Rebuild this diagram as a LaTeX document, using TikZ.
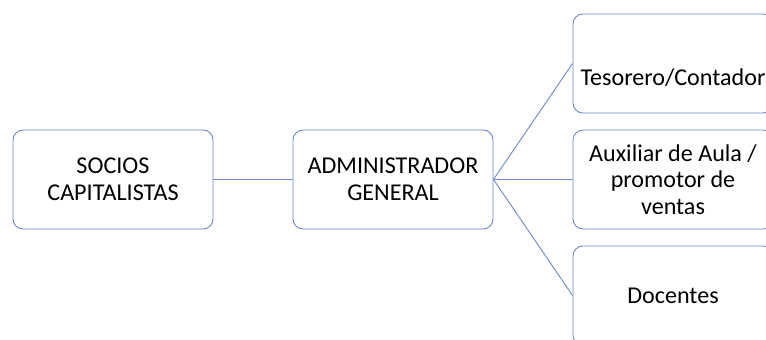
\documentclass[tikz,border=0pt]{standalone}
\usepackage{fontspec}
\setmainfont{Carlito}
\usepackage{tikz}
\usepackage{xcolor}
\usetikzlibrary{positioning, shapes}

\definecolor{officeblue}{HTML}{6A8ACB}
\tikzset{
  caja/.style={rectangle, draw=officeblue, rounded corners=10bp, line width=0.9bp, fill=white,
    minimum width=200bp, minimum height=99bp, align=center, font=\fontsize{24.2}{26.8}\selectfont, inner sep=2bp},
  linea/.style={draw=officeblue, line width=0.9bp}
}

\begin{document}
\begin{tikzpicture}[x=1bp, y=-1bp]
            \useasboundingbox (0, 0) rectangle (766, 339);
            \clip (0, 0) rectangle (766, 339);
            \node[caja] (1) at (113, 179.5) {SOCIOS\\CAPITALISTAS};
            \node[caja] (2) at (393, 179.5) {ADMINISTRADOR\\GENERAL};
            \node[caja, text height=44bp, text depth=0bp] (3) at (673, 63.5) {Tesorero/Contador};
            \node[caja] (4) at (673, 179.5) {Auxiliar de Aula /\\promotor de\\ventas};
            \node[caja] (5) at (673, 295.5) {Docentes};

            \draw[linea] (1) -- (2);
            \draw[linea] (2.east) -- (3.west);
            \draw[linea] (2.east) -- (4.west);
            \draw[linea] (2.east) -- (5.west);
        \end{tikzpicture}
\end{document}
